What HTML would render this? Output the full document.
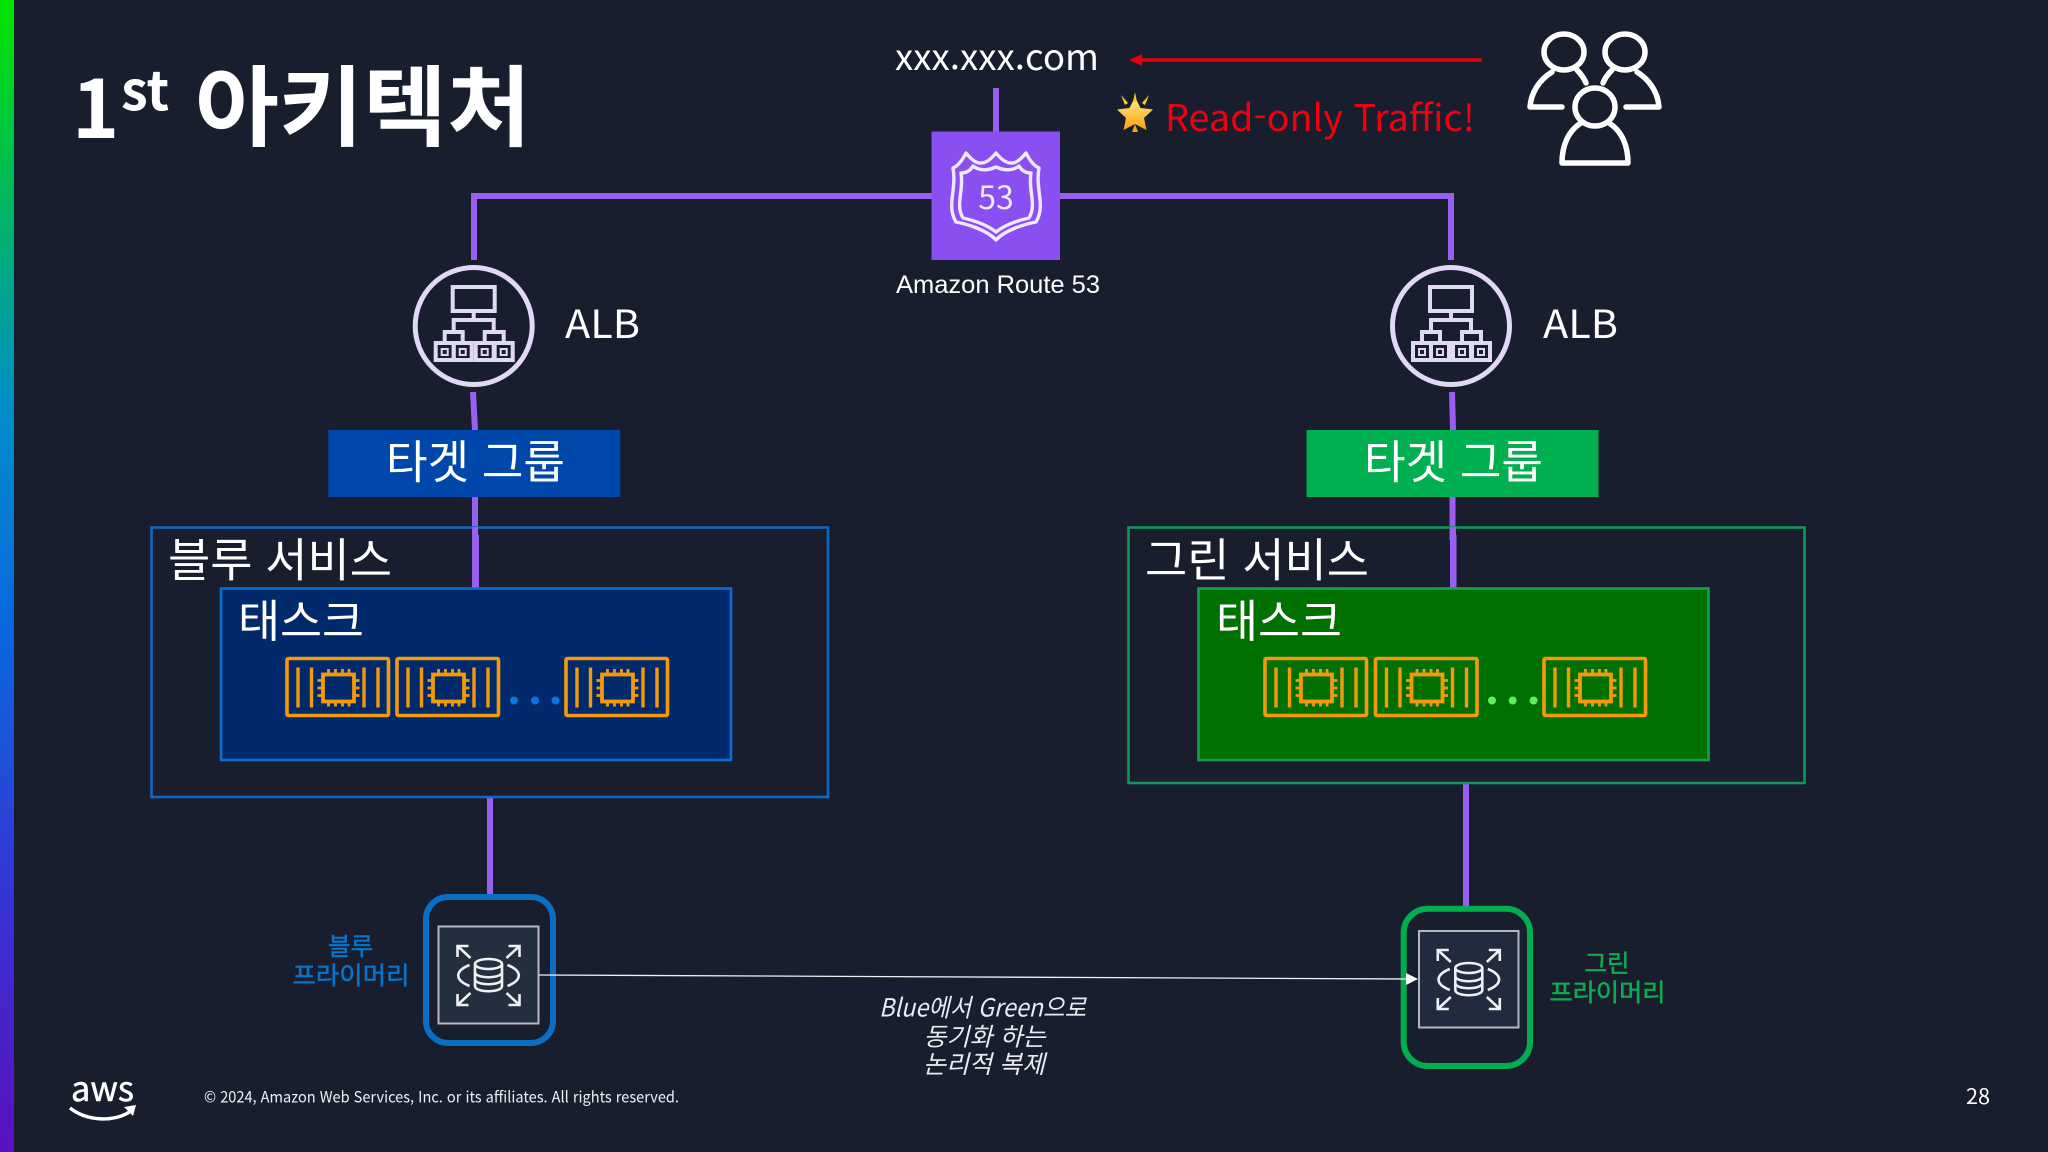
<!DOCTYPE html>
<html lang="ko">
<head>
<meta charset="utf-8">
<title>1st 아키텍처</title>
<style>
html,body{margin:0;padding:0;background:#181e2e;width:2048px;height:1152px;overflow:hidden}
svg{display:block}
text{font-family:"Liberation Sans","Noto Sans CJK KR",sans-serif;fill:#fff}
.k{font-family:"Noto Sans CJK KR","NanumGothic",sans-serif}
</style>
</head>
<body>
<svg xmlns="http://www.w3.org/2000/svg" width="2048" height="1152" viewBox="0 0 2048 1152">
<defs>
<linearGradient id="bar" x1="0" y1="0" x2="0" y2="1">
<stop offset="0" stop-color="#00e600"/>
<stop offset=".17" stop-color="#00b85c"/>
<stop offset=".35" stop-color="#008fc8"/>
<stop offset=".55" stop-color="#0a66e0"/>
<stop offset=".8" stop-color="#3a30d0"/>
<stop offset="1" stop-color="#5a10c0"/>
</linearGradient>
<linearGradient id="star" x1="0" y1="0" x2="0" y2="1">
<stop offset="0" stop-color="#ffe98a"/>
<stop offset="1" stop-color="#f5a40c"/>
</linearGradient>
<g id="alb" fill="none" stroke="#e0d8f5" stroke-width="4">
<circle r="58.5" stroke-width="5"/>
<rect x="-21" y="-39" width="42" height="24"/>
<path d="M0-15V-6M-20 6V-6H20V6M-29 17V6H-11V17M11 17V6H30V17"/>
<rect x="-38" y="17" width="18" height="17"/>
<rect x="-20" y="17" width="18" height="17"/>
<rect x="2" y="17" width="18" height="17"/>
<rect x="21" y="17" width="18" height="17"/>
<rect x="-32" y="23" width="6" height="6" stroke-width="2"/>
<rect x="-14" y="23" width="6" height="6" stroke-width="2"/>
<rect x="8" y="23" width="6" height="6" stroke-width="2"/>
<rect x="27" y="23" width="6" height="6" stroke-width="2"/>
</g>
<g id="task" fill="none" stroke="#f39a0c" stroke-width="3.4">
<rect x="0.5" y="0" width="101.5" height="57" rx="1.5" stroke-width="3.6"/>
<path d="M11.5 9V49M25 9V49M77.5 9V49M91.5 9V49"/>
<rect x="36.5" y="16" width="31" height="27" stroke-width="3.8"/>
<path stroke-width="2.8" d="M42 10.5V16M49 10.5V16M56 10.5V16M62.5 10.5V16M42 43V48M49 43V48M56 43V48M62.5 43V48M31 22H36.5M31 29.5H36.5M31 37H36.5M67.5 22H73M67.5 29.5H73M67.5 37H73"/>
</g>
<g id="rds" fill="none" stroke="#eef0f3" stroke-width="2.6">
<ellipse cx="0" cy="-11" rx="13.5" ry="5"/>
<path d="M-13.5-11V11C-13.5 18 13.5 18 13.5 11V-11M-13.5-3C-13.5 4 13.5 4 13.5-3M-13.5 4C-13.5 11 13.5 11 13.5 4"/>
<path d="M-19-10C-34-4-34 5-19 11M19-10C34-4 34 5 19 11"/>
<path d="M-18-17L-31-29M-31-18V-29H-20M18-17L31-29M31-18V-29H20M-18 18L-31 30M-31 19V30H-20M18 18L31 30M31 19V30H20"/>
</g>
</defs>

<rect width="2048" height="1152" fill="#181e2e"/>
<rect x="0" y="0" width="14" height="1152" fill="url(#bar)"/>

<!-- title -->
<text x="72" y="138" class="k" font-size="80" font-weight="700">1</text>
<text x="121" y="110" class="k" font-size="54" font-weight="700">st</text>
<text x="195" y="139" class="k" font-size="88" font-weight="700" textLength="336" lengthAdjust="spacingAndGlyphs">아키텍처</text>

<!-- top -->
<text x="895" y="70" class="k" font-size="36" textLength="204" lengthAdjust="spacingAndGlyphs">xxx.xxx.com</text>
<path d="M1140 60H1482" stroke="#e6000c" stroke-width="3.6"/>
<path d="M1129 60L1142 54V66Z" fill="#e6000c"/>
<g>
<polygon points="1135,97 1140.5,108 1153,109.5 1144,118 1146.5,130 1135,124 1123.5,130 1126,118 1117,109.5 1129.5,108" fill="url(#star)"/>
<path d="M1135 92L1137 102H1133ZM1121 95L1128 103L1125 105ZM1149 95L1142 103L1145 105Z" fill="#f5d020"/>
<path d="M1135 124L1138 132H1132Z" fill="#f5a40c"/>
</g>
<text x="1165" y="131" class="k" font-size="37" fill="#f0000f" style="fill:#f0000f" textLength="310" lengthAdjust="spacingAndGlyphs">Read-only Traffic!</text>

<!-- users -->
<g fill="none" stroke="#fff" stroke-width="5.5" stroke-linecap="round" stroke-linejoin="round">
<ellipse cx="1564" cy="52" rx="20" ry="18"/>
<path d="M1552 72C1539 80 1531 93 1530 107H1562M1577 70C1581 74 1584 78 1586 83"/>
<ellipse cx="1625" cy="52" rx="20" ry="18"/>
<path d="M1637 72C1650 80 1658 93 1659 107H1626M1612 70C1608 74 1605 78 1603 83"/>
<ellipse cx="1595" cy="107" rx="20" ry="19"/>
<path d="M1581 123C1568 131 1562 146 1562 163H1628C1628 146 1622 131 1609 123"/>
</g>

<!-- purple connectors -->
<g fill="none" stroke="#9b5ff0" stroke-width="6">
<path d="M474 260V196H1451V260"/>
<path d="M996 88V132" stroke-width="6"/>
<path d="M473 392L475 430M475 497V540M476 535V588"/>
<path d="M1452 392L1453 430M1452.5 497V540M1453.5 535V588"/>
<path d="M490 797V895M1466 783V906" stroke-width="6"/>
</g>

<!-- route 53 -->
<rect x="931.5" y="131.5" width="128.5" height="128.5" fill="#8a4ff0"/>
<g fill="none" stroke="#f0e8ff" stroke-width="3.4" stroke-linejoin="round">
<path d="M953 168Q960 165 966 153Q975 164 981 163Q988 163 996 153Q1004 163 1011 163Q1017 164 1026 153Q1032 165 1039 168C1035 190 1046 205 1036 222C1025 224 1005 230 996 240C987 230 967 224 956 222C946 205 957 190 953 168Z"/>
<path d="M961 173Q969 173 973 166Q982 173 996 167Q1010 173 1019 166Q1023 173 1031 173C1028 190 1037 205 1029 218C1020 220 1006 224 996 232C986 224 972 220 963 218C955 205 964 190 961 173Z"/>
</g>
<text x="996" y="209" class="k" font-size="32" text-anchor="middle" fill="#f0e8ff" style="fill:#f0e8ff">53</text>
<text x="896" y="293" font-size="25" textLength="204" lengthAdjust="spacingAndGlyphs">Amazon Route 53</text>

<!-- ALBs -->
<use href="#alb" x="473.7" y="326"/>
<use href="#alb" x="1451" y="326"/>
<text x="565" y="338" class="k" font-size="39" textLength="75" lengthAdjust="spacingAndGlyphs">ALB</text>
<text x="1543" y="338" class="k" font-size="39" textLength="75" lengthAdjust="spacingAndGlyphs">ALB</text>

<!-- blue service -->
<rect x="151.5" y="527.5" width="676.5" height="269.5" fill="none" stroke="#1168c4" stroke-width="2.6"/>
<path d="M475 527V588" stroke="#9b5ff0" stroke-width="6"/>
<rect x="328.3" y="430" width="292" height="67" fill="#0047ab"/>
<text x="386" y="478.5" class="k" font-size="46" textLength="179" lengthAdjust="spacingAndGlyphs">타겟 그룹</text>
<text x="168" y="576.5" class="k" font-size="46" textLength="224" lengthAdjust="spacingAndGlyphs">블루 서비스</text>
<rect x="221" y="588.5" width="510" height="171.5" fill="#002a6c" stroke="#0e6cd0" stroke-width="2.6"/>
<text x="238" y="637" class="k" font-size="45" textLength="126" lengthAdjust="spacingAndGlyphs">태스크</text>
<use href="#task" x="286.5" y="658.5"/>
<use href="#task" x="396.5" y="658.5"/>
<use href="#task" x="565.5" y="658.5"/>
<circle cx="514" cy="700.5" r="4" fill="#0a74e0"/>
<circle cx="535" cy="700.5" r="4" fill="#0a74e0"/>
<circle cx="555.5" cy="700.5" r="4" fill="#0a74e0"/>

<!-- green service -->
<rect x="1128.5" y="527.5" width="676" height="255.5" fill="none" stroke="#12975a" stroke-width="2.6"/>
<path d="M1453 527V588" stroke="#9b5ff0" stroke-width="6"/>
<rect x="1306.5" y="430" width="292" height="67" fill="#00b050"/>
<text x="1364" y="478.5" class="k" font-size="46" textLength="179" lengthAdjust="spacingAndGlyphs">타겟 그룹</text>
<text x="1145" y="576.5" class="k" font-size="46" textLength="224" lengthAdjust="spacingAndGlyphs">그린 서비스</text>
<rect x="1198.5" y="588.5" width="510" height="171.5" fill="#007000" stroke="#14a050" stroke-width="2.6"/>
<text x="1216" y="637" class="k" font-size="45" textLength="126" lengthAdjust="spacingAndGlyphs">태스크</text>
<use href="#task" x="1264.5" y="658.5"/>
<use href="#task" x="1375" y="658.5"/>
<use href="#task" x="1543.5" y="658.5"/>
<circle cx="1492" cy="700.5" r="4" fill="#5ff05f"/>
<circle cx="1512.7" cy="700.5" r="4" fill="#5ff05f"/>
<circle cx="1533.6" cy="700.5" r="4" fill="#5ff05f"/>

<!-- RDS -->
<rect x="426" y="897" width="127" height="146" rx="22" fill="none" stroke="#0a6fc2" stroke-width="6"/>
<rect x="438.5" y="926.5" width="100" height="97" fill="#232f3e" stroke="#b4b8c0" stroke-width="2"/>
<use href="#rds" x="488.5" y="975"/>
<rect x="1403.7" y="908.7" width="126.3" height="157.3" rx="24" fill="none" stroke="#00ae50" stroke-width="6"/>
<rect x="1419" y="931" width="99.5" height="96.5" fill="#212b3d" stroke="#b4b8c0" stroke-width="2"/>
<use href="#rds" x="1468.8" y="979"/>
<path d="M539 975L1408 979" stroke="#eef0f3" stroke-width="1.3"/>
<path d="M1406 973L1418 979L1406 985Z" fill="#fff"/>

<text x="350.7" y="955" class="k" font-size="24.5" text-anchor="middle" fill="#0a74cc" stroke="#0a74cc" stroke-width=".5" style="fill:#0a74cc">블루</text>
<text x="292.5" y="984" class="k" font-size="24.5" fill="#0a74cc" stroke="#0a74cc" stroke-width=".5" style="fill:#0a74cc" textLength="117" lengthAdjust="spacingAndGlyphs">프라이머리</text>
<text x="1607" y="972" class="k" font-size="24.5" text-anchor="middle" fill="#10ab50" stroke="#10ab50" stroke-width=".5" style="fill:#10ab50">그린</text>
<text x="1549.5" y="1001" class="k" font-size="24.5" fill="#10ab50" stroke="#10ab50" stroke-width=".5" style="fill:#10ab50" textLength="116" lengthAdjust="spacingAndGlyphs">프라이머리</text>

<text x="879" y="1016.5" class="k" font-size="25" font-style="italic" fill="#e8ebf0" style="fill:#e8ebf0" textLength="207" lengthAdjust="spacingAndGlyphs">Blue에서 Green으로</text>
<text x="984.5" y="1045.5" class="k" font-size="25" font-style="italic" text-anchor="middle" fill="#e8ebf0" style="fill:#e8ebf0">동기화 하는</text>
<text x="984" y="1073" class="k" font-size="25" font-style="italic" text-anchor="middle" fill="#e8ebf0" style="fill:#e8ebf0">논리적 복제</text>

<!-- footer -->
<text x="71" y="1101" class="k" font-size="34" stroke="#fff" stroke-width=".5" textLength="63" lengthAdjust="spacingAndGlyphs">aws</text>
<path d="M70 1108C88 1122 115 1122 131 1111" fill="none" stroke="#fff" stroke-width="3.4"/>
<path d="M124 1107L136 1105L133 1116Z" fill="#fff"/>
<text x="204" y="1102.5" class="k" font-size="15.5" fill="#eef0f3" style="fill:#eef0f3" textLength="475" lengthAdjust="spacingAndGlyphs">© 2024, Amazon Web Services, Inc. or its affiliates. All rights reserved.</text>
<text x="1966" y="1104" class="k" font-size="21" textLength="24" lengthAdjust="spacingAndGlyphs">28</text>
</svg>
</body>
</html>
